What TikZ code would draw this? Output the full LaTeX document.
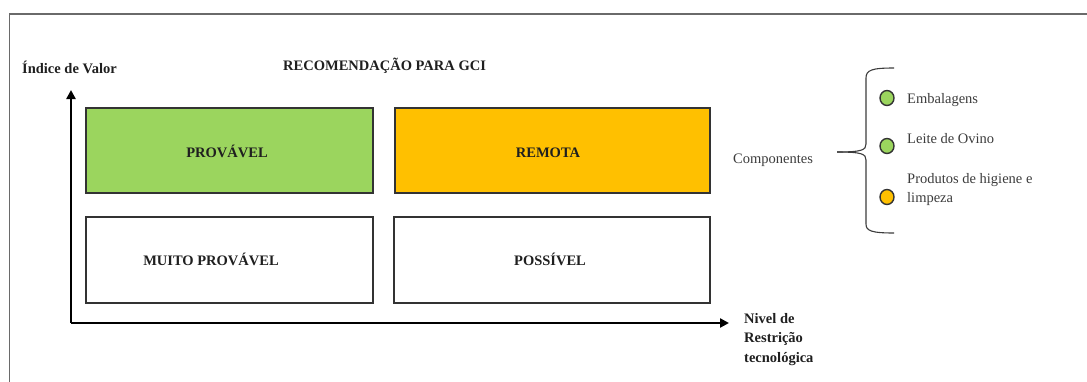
\documentclass[tikz,border=0pt]{standalone}
\usepackage{fontspec}
\setmainfont{Liberation Serif}
\usetikzlibrary{arrows.meta}
\definecolor{boxgreen}{HTML}{9BD55E}
\definecolor{boxorange}{HTML}{FFC000}
\definecolor{framegray}{HTML}{6A6A6A}
\definecolor{edgegray}{HTML}{333333}
\definecolor{textgray}{HTML}{3C3C3C}
\tikzset{
  quad/.style={draw=edgegray, line width=2pt, minimum width=#1, minimum height=86pt, inner sep=0pt},
  quad/.default=287pt,
  quadlabel/.style={font=\fontsize{14.5}{16}\selectfont\bfseries, text=black!88, anchor=base, inner sep=0pt},
  axis/.style={line width=2.8pt, -{Triangle[length=9pt,width=9pt]}},
  plain/.style={font=\fontsize{14.5}{16}\selectfont, text=textgray, anchor=base west, inner sep=0pt},
  bold/.style={font=\fontsize{14.5}{16}\selectfont\bfseries, text=black!88, anchor=base west, inner sep=0pt},
  dot/.style={ellipse, draw=edgegray, line width=1.4pt, minimum width=14pt, minimum height=15pt, inner sep=0pt},
}
\usetikzlibrary{shapes.geometric}
\begin{document}
\begin{tikzpicture}[x=1pt, y=-1pt]
\useasboundingbox (0,0) rectangle (1087,381);
% outer frame (continues past the right and bottom edges)
\draw[framegray, line width=1.5pt] (9.5,395) -- (9.5,14) -- (1100,14);

% axes
\coordinate (origin) at (71,323);
\coordinate (ytip) at (71,90);
\coordinate (xtip) at (729,323);
\draw[axis] (origin) -- (ytip);
\draw[axis] (origin) -- (xtip);

% quadrants
\node[quad=287pt, fill=boxgreen, minimum height=85pt] (q1) at (229.5,150.5) {};
\node[quad=315pt, fill=boxorange, minimum height=85pt] (q2) at (552.5,150.5) {};
\node[quad=287pt, fill=white] (q3) at (229.5,259.5) {};
\node[quad=316pt, fill=white] (q4) at (552,259.5) {};

\node[quadlabel] (l1) at (227,157) {PROVÁVEL};
\node[quadlabel] (l2) at (548,157) {REMOTA};
\node[quadlabel] (l3) at (211,265) {MUITO PROVÁVEL};
\node[quadlabel] (l4) at (550,265) {POSSÍVEL};

% titles and axis labels
\node[bold] (ylab) at (22,73) {Índice de Valor};
\node[bold] (title) at (283,70) {RECOMENDAÇÃO PARA GCI};
\node[bold, align=left, anchor=north west, font=\fontsize{14.5}{19.5}\selectfont\bfseries] (xlab) at (744,313) {Nivel de\\Restrição\\tecnológica};

% components legend
\node[plain] (comp) at (733,163) {Componentes};
\coordinate (bt) at (894,68);
\coordinate (bb) at (894,233);
\coordinate (bm) at (837,152);
\draw[textgray, line width=1.1pt]
  (bt) .. controls (872,68) and (866,70) .. (866,78)
  -- (866,144) .. controls (866,150) and (862,152) .. (bm);
\draw[textgray, line width=1.1pt]
  (bm) .. controls (862,152) and (866,154) .. (866,160)
  -- (866,224) .. controls (866,231) and (872,233) .. (bb);

\node[dot, fill=boxgreen] (d1) at (887,98) {};
\node[dot, fill=boxgreen] (d2) at (887,146) {};
\node[dot, fill=boxorange] (d3) at (887,197) {};
\node[plain] (t1) at (907,103) {Embalagens};
\node[plain] (t2) at (907,143) {Leite de Ovino};
\node[plain] (t3) at (907,183) {Produtos de higiene e};
\node[plain] (t4) at (907,202) {limpeza};
\end{tikzpicture}
\end{document}
